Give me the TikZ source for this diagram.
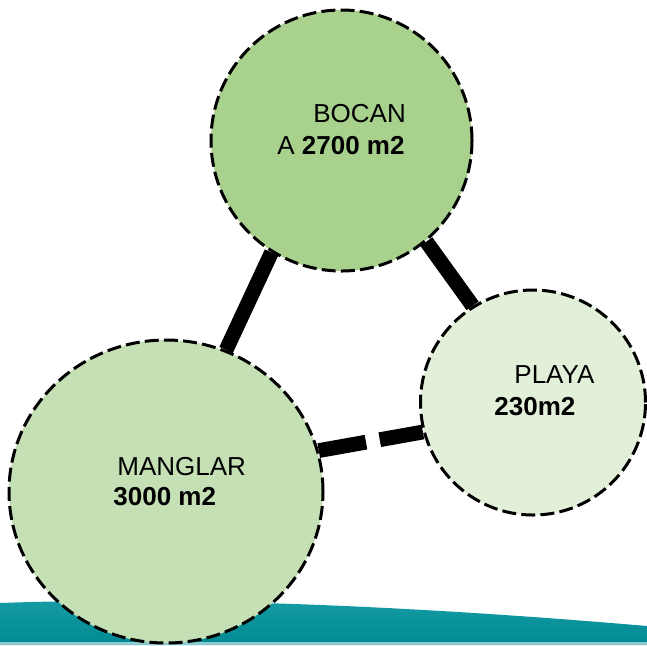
\documentclass[tikz,border=0pt]{standalone}
\usepackage{fontspec}
\setmainfont{Liberation Sans}
\usetikzlibrary{shapes.geometric}

\definecolor{bocanagreen}{RGB}{169,209,142}
\definecolor{mangalgreen}{RGB}{197,224,180}
\definecolor{playagreen}{RGB}{226,240,217}
\definecolor{seateal}{RGB}{0,138,148}
\definecolor{seatop}{RGB}{22,156,164}

\begin{document}
\begin{tikzpicture}[
         x = 0.5pt, y = -0.5pt,
every node/.style = {font=\fontsize{13}{16}\selectfont},
       zone/.style = {circle, draw, line width=1.5pt, dash pattern=on 7pt off 2.6pt, inner sep=0pt},
       link/.style = {line width=7.4pt},
        txt/.style = {inner sep=0pt, anchor=base west}
                        ]
\useasboundingbox (0,0) rectangle (647,645);
% mar al fondo
\shade[top color=seatop, bottom color=seateal]
    (0,603) .. controls (160,597) and (380,603) .. (647,626) -- (647,645) -- (0,645) -- cycle;
\fill[seateal!45!white] (0,642) rectangle (647,645);
% zonas
\node (bocana)  [zone, fill=bocanagreen, minimum size=130.5pt] at (341.5,140.5) {};
\node (playa)   [zone, fill=playagreen, minimum size=112.5pt] at (533,402.5) {};
\node (manglar) [zone, ellipse, fill=mangalgreen, minimum width=157pt, minimum height=151.5pt] at (166,491.5) {};
% textos
\node (bocana-name) [txt] at (313,122) {BOCAN};
\node (bocana-area) [txt] at (277,154) {A \textbf{2700 m2}};
\node (playa-name)  [txt] at (514,383) {PLAYA};
\node (playa-area)  [txt] at (494,415) {\textbf{230m2}};
\node (manglar-name) [txt] at (117,475) {MANGLAR};
\node (manglar-area) [txt] at (113,505) {\textbf{3000 m2}};
% conexiones
\draw[link] (bocana.238) to (manglar.67);
\draw[link] (bocana.-50) to (playa.122);
\draw[link, dash pattern=on 24pt off 7pt] (manglar.15) to (playa.195);
\end{tikzpicture}
\end{document}
